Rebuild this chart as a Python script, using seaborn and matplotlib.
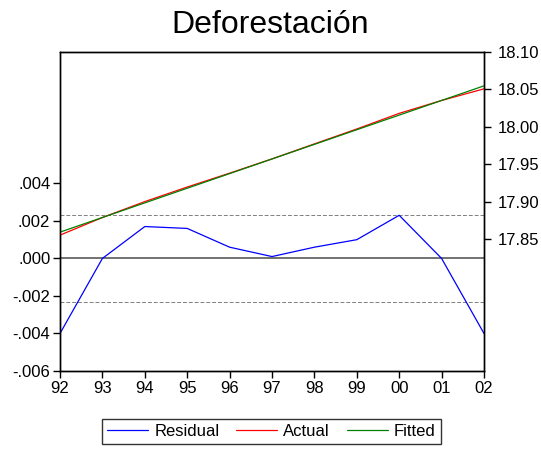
import matplotlib
matplotlib.use("Agg")
import matplotlib.pyplot as plt
import seaborn as sns
import pandas as pd
from matplotlib.lines import Line2D

years = list(range(1992, 2003))
year_labels = ["92", "93", "94", "95", "96", "97", "98", "99", "00", "01", "02"]
residual = [-0.0040, 0.0000, 0.0017, 0.0016, 0.0006, 0.0001, 0.0006, 0.0010, 0.0023, 0.0000, -0.0040]
actual = [17.8555, 17.8790, 17.9002, 17.9196, 17.9381, 17.9571, 17.9771, 17.9970, 18.0178, 18.0350, 18.0505]
fitted = [17.8595, 17.8790, 17.8985, 17.9180, 17.9375, 17.9570, 17.9765, 17.9960, 18.0155, 18.0350, 18.0545]
resid_std = 0.00233
left_ticks = [-0.006, -0.004, -0.002, 0.000, 0.002, 0.004]
left_labels = ["-.006", "-.004", "-.002", ".000", ".002", ".004"]
right_ticks = [17.85, 17.90, 17.95, 18.00, 18.05, 18.10]
right_labels = ["17.85", "17.90", "17.95", "18.00", "18.05", "18.10"]

sns.set_style("white")
plt.rcParams["font.family"] = ["Liberation Sans", "DejaVu Sans"]
plt.rcParams["text.color"] = "black"
plt.rcParams["axes.labelcolor"] = "black"

df = pd.DataFrame({"year": years, "Residual": residual, "Actual": actual, "Fitted": fitted})

W, H = 541, 449
fig = plt.figure(figsize=(W / 100, H / 100), dpi=100)
ax = fig.add_axes([60 / W, (H - 371) / H, (484 - 60) / W, (371 - 51.7) / H])
ax2 = ax.twinx()

# right axis: actual & fitted
sns.lineplot(data=df, x="year", y="Actual", ax=ax2, color="#ff0000", lw=0.9)
sns.lineplot(data=df, x="year", y="Fitted", ax=ax2, color="#008000", lw=0.9)
ax2.set_ylim(17.6744, 18.10)
ax2.set_yticks(right_ticks)
ax2.set_yticklabels(right_labels)
ax2.set_ylabel("")

# left axis: residual
ax.axhline(0, color="#666666", lw=1.3, zorder=1)
ax.axhline(resid_std, color="#808080", lw=0.7, ls=(0, (4, 2)), zorder=1)
ax.axhline(-resid_std, color="#808080", lw=0.7, ls=(0, (4, 2)), zorder=1)
sns.lineplot(data=df, x="year", y="Residual", ax=ax, color="#0000ff", lw=0.9)
ax.set_ylim(-0.006, 0.01102)
ax.set_yticks(left_ticks)
ax.set_yticklabels(left_labels)
ax.set_ylabel("")
ax.set_xlabel("")
ax.set_xlim(1992, 2002)
ax.set_xticks(years)
ax.set_xticklabels(year_labels)

for a in (ax, ax2):
    for s in a.spines.values():
        s.set_color("black")
        s.set_linewidth(1.0)
        s.set_visible(True)
    a.tick_params(axis="both", direction="out", length=5, width=1.0, colors="black",
                  labelsize=12, pad=3)
ax.tick_params(axis="y", left=True, right=False, pad=2)
ax.tick_params(axis="x", bottom=True, pad=2)
ax2.tick_params(axis="y", right=True, left=False, pad=5)

fig.text(0.5, 1 - 33 / H, "Deforestación", ha="center", va="baseline", fontsize=23,
         color="black")

handles = [Line2D([], [], color="#0000ff", lw=0.9),
           Line2D([], [], color="#ff0000", lw=0.9),
           Line2D([], [], color="#008000", lw=0.9)]
leg = fig.legend(handles, ["Residual", "Actual", "Fitted"], loc="center",
                 bbox_to_anchor=(271.5 / W, 1 - 431.5 / H), ncol=3, fontsize=12,
                 frameon=True, fancybox=False, edgecolor="black", handlelength=2.45,
                 columnspacing=1.0, handletextpad=0.38, borderpad=0.3)
leg.get_frame().set_linewidth(1.0)
for t in leg.get_texts():
    t.set_color("black")

fig.savefig("out.png", dpi=100, facecolor="white")
